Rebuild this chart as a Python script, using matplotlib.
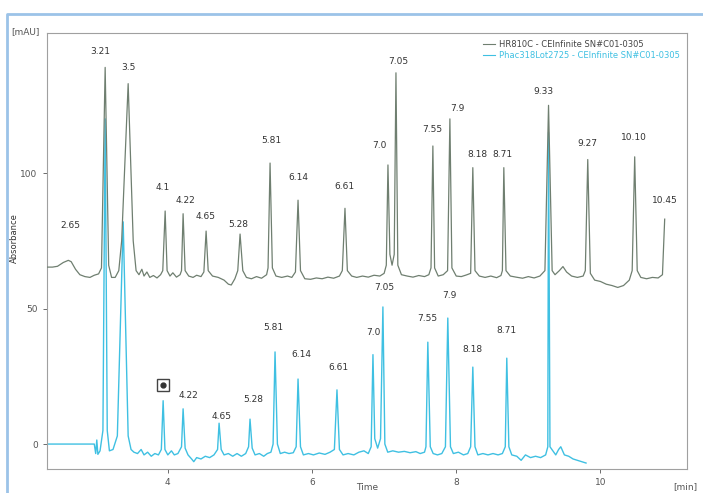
import matplotlib
matplotlib.use("Agg")
import matplotlib.pyplot as plt
from matplotlib.lines import Line2D

# trace points (time [min], absorbance [mAU])
green_t = [2.32, 2.40, 2.47, 2.55, 2.62, 2.66, 2.72, 2.78, 2.85, 2.92, 2.98, 3.04, 3.08,
           3.131, 3.18, 3.22, 3.27, 3.32, 3.36, 3.45, 3.52, 3.56, 3.60, 3.64, 3.67, 3.71,
           3.75, 3.80, 3.85, 3.90, 3.93, 3.963, 3.99, 4.03, 4.07, 4.12, 4.17, 4.19, 4.212,
           4.24, 4.29, 4.35, 4.40, 4.46, 4.50, 4.531, 4.56, 4.62, 4.70, 4.78, 4.84, 4.88,
           4.93, 4.97, 5.002, 5.04, 5.09, 5.16, 5.23, 5.30, 5.37, 5.39, 5.418, 5.45, 5.50,
           5.58, 5.66, 5.72, 5.77, 5.806, 5.84, 5.90, 5.98, 6.06, 6.14, 6.22, 6.30, 6.38,
           6.42, 6.457, 6.49, 6.55, 6.62, 6.70, 6.78, 6.86, 6.94, 7.00, 7.03, 7.053, 7.08,
           7.11, 7.14, 7.164, 7.19, 7.24, 7.32, 7.40, 7.48, 7.56, 7.62, 7.65, 7.676, 7.70,
           7.75, 7.82, 7.88, 7.912, 7.94, 8.00, 8.07, 8.14, 8.20, 8.230, 8.26, 8.32, 8.40,
           8.48, 8.56, 8.62, 8.64, 8.660, 8.69, 8.75, 8.83, 8.92, 9.00, 9.08, 9.16, 9.23,
           9.280, 9.33, 9.37, 9.43, 9.48, 9.53, 9.60, 9.68, 9.76, 9.79, 9.824, 9.86, 9.92,
           10.00, 10.08, 10.16, 10.24, 10.32, 10.40, 10.44, 10.475, 10.51, 10.56, 10.64,
           10.72, 10.80, 10.86, 10.891]
green_v = [65.3, 65.3, 65.6, 67.0, 67.8, 67.3, 64.5, 62.5, 61.8, 61.5, 62.3, 62.8, 65,
           139, 66, 61.5, 61.5, 64, 75, 133, 75, 64, 62.5, 64.5, 62, 63.5,
           61.5, 62.2, 61.3, 62.5, 64, 86, 64, 62, 63.2, 61.6, 62.5, 64, 85,
           64, 62, 61.5, 62.3, 61.8, 63.5, 78.6, 64, 62, 61.5, 60.5, 59, 58.7,
           61, 64, 77.5, 64, 61.5, 61, 61.8, 61.2, 62.5, 65, 103.7, 65, 62,
           61.5, 62, 61.5, 63.5, 90, 64, 61, 60.8, 61.3, 61, 61.6, 61.2, 62,
           64, 87, 64, 62, 61.5, 62, 61.6, 62.3, 62, 63, 66, 103, 70,
           66, 70, 137, 66, 62.5, 62, 61.6, 62.2, 61.8, 62.5, 65, 110, 65,
           62, 62.5, 64, 120, 65, 62, 61.8, 62.4, 63, 102, 64, 62, 61.5,
           62, 61.4, 62.2, 64, 102, 64, 62, 61.6, 61.2, 61.8, 61.3, 62, 64,
           125, 64, 62.5, 64, 65.5, 63.5, 62, 61.5, 62, 64, 105, 63, 60.5,
           60, 59, 58.5, 57.8, 58.5, 60.5, 64, 106, 64, 61.5, 61,
           61.5, 61.3, 62.5, 83]

cyan_t = [2.32, 2.98, 3.00, 3.015, 3.03, 3.06, 3.10, 3.131, 3.16, 3.19, 3.24, 3.30, 3.381,
          3.45, 3.49, 3.53, 3.58, 3.63, 3.67, 3.72, 3.77, 3.82, 3.87, 3.91, 3.935, 3.96,
          4.00, 4.05, 4.09, 4.14, 4.19, 4.212, 4.24, 4.28, 4.33, 4.36, 4.40, 4.46, 4.52,
          4.58, 4.64, 4.69, 4.711, 4.74, 4.78, 4.84, 4.90, 4.96, 5.02, 5.08, 5.12, 5.140,
          5.17, 5.21, 5.27, 5.33, 5.38, 5.43, 5.46, 5.487, 5.52, 5.56, 5.62, 5.68, 5.74,
          5.78, 5.806, 5.84, 5.88, 5.95, 6.02, 6.10, 6.18, 6.25, 6.31, 6.346, 6.38, 6.43,
          6.50, 6.58, 6.65, 6.72, 6.78, 6.82, 6.845, 6.87, 6.91, 6.95, 6.983, 7.01, 7.05,
          7.12, 7.20, 7.28, 7.36, 7.44, 7.50, 7.56, 7.58, 7.606, 7.64, 7.68, 7.74, 7.80,
          7.85, 7.883, 7.92, 7.96, 8.03, 8.10, 8.16, 8.20, 8.230, 8.26, 8.30, 8.37, 8.44,
          8.51, 8.58, 8.64, 8.68, 8.701, 8.73, 8.77, 8.84, 8.90, 8.96, 9.03, 9.10, 9.17,
          9.24, 9.27, 9.280, 9.30, 9.34, 9.38, 9.42, 9.45, 9.50, 9.56, 9.62, 9.68, 9.74, 9.80]
cyan_v = [0, 0, -3.5, 1.5, -3.8, -2.5, 5, 120, 5, -2.5, -2, 3, 82,
          3, -2, -3, -3.5, -2, -4, -3, -4.5, -3.5, -4, -2, 16, -2,
          -4, -2.5, -4, -3.5, -1, 13, -1.5, -4, -5.5, -6.5, -5, -5.5, -4.5,
          -5, -4, -2, 7.7, -2, -4, -3.5, -4.5, -3.5, -4.5, -3.5, -1, 9.2,
          -1.5, -4, -3.5, -4.5, -3.5, -3, 0, 34, 0, -3.5, -3, -3.5, -3.2,
          -1, 24, -1, -4, -3.5, -4, -3.3, -3.8, -3, -2, 20, -2, -4,
          -3.5, -4, -3, -2.5, -3.5, -1, 33, 2, -1.5, 2, 50.6, 0, -3,
          -2.5, -3, -2.7, -3.2, -2.8, -3.5, -3, -1, 37.6, -1, -3.5, -4, -3.5,
          -1, 46.5, -1, -3.5, -3, -4, -3.5, -1, 28.4, -1, -4, -3.5, -4,
          -3.5, -4, -3.5, -1, 31.7, -1, -4, -4.5, -6, -4, -5, -4.5, -5,
          -4, -1, 115, -1, -2.5, -4, -2, -1, -4, -4.5, -5.5, -6, -6.5, -7]

# peak annotations
green_labels = ["2.65", "3.21", "3.5", "4.1", "4.22", "4.65", "5.28", "5.81", "6.14", "6.61",
                "7.0", "7.05", "7.55", "7.9", "8.18", "8.71", "9.33", "9.27", "10.10", "10.45"]
green_lab_t = [2.65, 3.06, 3.45, 3.93, 4.25, 4.52, 4.98, 5.44, 5.81, 6.45,
               6.93, 7.19, 7.67, 8.02, 8.29, 8.64, 9.21, 9.82, 10.46, 10.89]
green_lab_v = [80.5, 145, 139, 94.5, 90, 84, 81, 112, 98.5, 95,
               110, 141, 116, 124, 107, 107, 130, 111, 113, 90]

cyan_labels = ["4.22", "4.65", "5.28", "5.81", "6.14", "6.61", "7.0", "7.05", "7.55", "7.9",
               "8.18", "8.71"]
cyan_lab_t = [4.28, 4.75, 5.18, 5.47, 5.85, 6.36, 6.85, 7.00, 7.60, 7.90, 8.22, 8.70]
cyan_lab_v = [18, 10.3, 16.6, 43, 33, 28.4, 41, 57.6, 46.5, 55, 35, 42]

green_name = "HR810C - CEInfinite SN#C01-0305"
cyan_name = "Phac318Lot2725 - CEInfinite SN#C01-0305"
green_col = "#6f7f70"
cyan_col = "#3fc0e2"

fig = plt.figure(figsize=(7.03, 4.93), dpi=100)
ax = fig.add_axes([0.0664, 0.0487, 0.9108, 0.8844])

ax.plot(cyan_t, cyan_v, color=cyan_col, lw=1.0, label=cyan_name, zorder=2)
ax.plot(green_t, green_v, color=green_col, lw=0.9, label=green_name, zorder=3)

for s, t, v in zip(green_labels, green_lab_t, green_lab_v):
    ax.text(t, v, s, fontsize=6.5, color="#333333", ha="center", va="center")
for s, t, v in zip(cyan_labels, cyan_lab_t, cyan_lab_v):
    ax.text(t, v, s, fontsize=6.5, color="#333333", ha="center", va="center")

# selection cursor where the 4.1 label sits
ax.plot([3.935], [21.8], marker="s", ms=8, mfc="none", mec="#444444", ls="none", zorder=4)
ax.plot([3.935], [21.8], marker="o", ms=3.5, mfc="#333333", mec="#333333", ls="none", zorder=4)

ax.set_xlim(2.32, 11.2)
ax.set_ylim(-9.2, 151.7)
ax.set_xticks([4, 6, 8, 10])
ax.set_yticks([0, 50, 100])
ax.tick_params(labelsize=6.5, colors="#555555", length=3, width=0.6)
for sp in ax.spines.values():
    sp.set_color("#a0a0a0")
    sp.set_linewidth(0.8)

handles = [Line2D([], [], color=green_col, lw=0.8), Line2D([], [], color=cyan_col, lw=0.8)]
leg = ax.legend(handles, [green_name, cyan_name], loc="upper right", frameon=False,
                fontsize=6, handlelength=1.5, handletextpad=0.5, labelspacing=0.25,
                borderaxespad=0.4)
leg.get_texts()[0].set_color("#444444")
leg.get_texts()[1].set_color(cyan_col)

fig.text(40 / 703, 1 - 32 / 493, "[mAU]", fontsize=6.5, color="#555555", ha="right", va="center")
fig.text(697 / 703, 1 - 487 / 493, "[min]", fontsize=6.5, color="#555555", ha="right", va="center")
fig.text(367 / 703, 1 - 487 / 493, "Time", fontsize=6.5, color="#555555", ha="center", va="center")
fig.text(14 / 703, 1 - 238 / 493, "Absorbance", fontsize=6, color="#333333", rotation=90,
         ha="center", va="center")

# light blue window frame
fig.add_artist(Line2D([7 / 703, 7 / 703, 1], [0, 1 - 14 / 493, 1 - 14 / 493],
                      transform=fig.transFigure, color="#9cc3e8", lw=2))

fig.savefig("out.png", dpi=100)
